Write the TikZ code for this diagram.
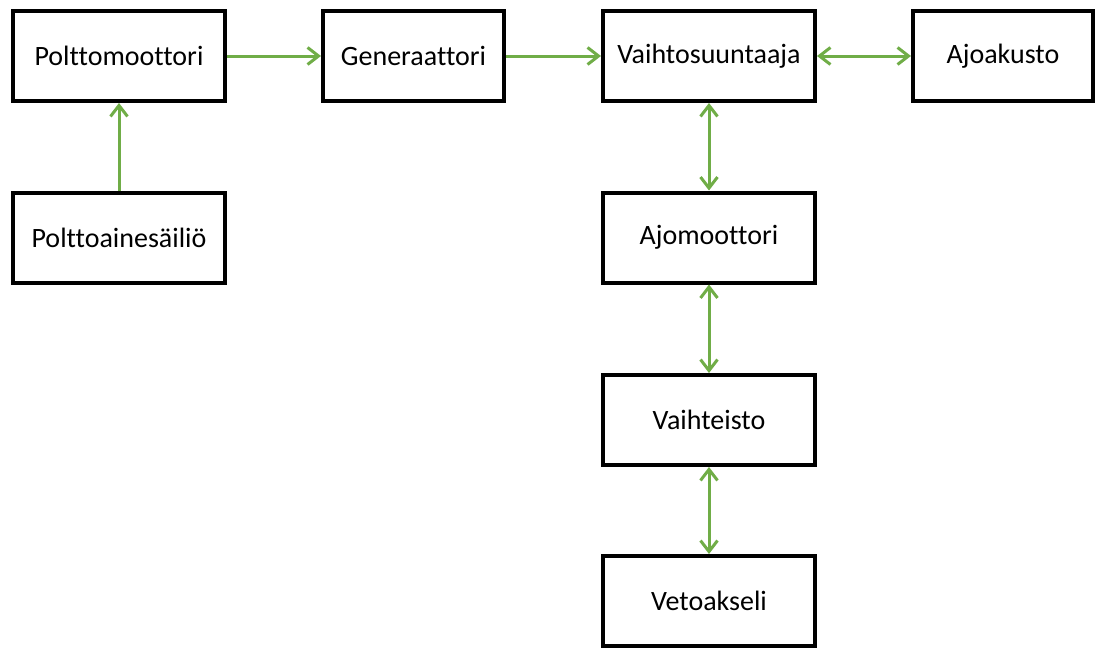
\documentclass[tikz,border=0pt]{standalone}
\usepackage{fontspec}
\setmainfont{Carlito}[Ligatures={NoCommon}]
\usetikzlibrary{arrows.meta}
\definecolor{arrgreen}{RGB}{112,173,71}
\tikzset{
  blockbox/.style={draw=black, line width=4pt, fill=white, minimum height=90pt, inner sep=0pt, font=\fontsize{28}{33}\selectfont},
  wideb/.style={blockbox, minimum width=212pt},
  narrowb/.style={blockbox, minimum width=181pt},
  conn/.style={draw=arrgreen, line width=3pt},
  tipg/.tip={Straight Barb[length=11pt,width=17pt,line width=3pt]}
}
\begin{document}
\begin{tikzpicture}[x=1pt,y=-1pt]
\useasboundingbox (0,0) rectangle (1095,648);
\node[wideb] (pm) at (119,56) {Polttomoottori};
\node[narrowb] (gen) at (413.5,56) {Generaattori};
\node[wideb] (vs) at (709,56) {Vaihtosuuntaaja};
\node[blockbox, minimum width=180pt] (ak) at (1003,56) {Ajoakusto};
\node[wideb] (pas) at (119,237.5) {Polttoainesäiliö};
\node[wideb] (am) at (709,237.5) {Ajomoottori};
\node[wideb] (vt) at (709,420) {Vaihteisto};
\node[wideb] (va) at (709,601) {Vetoakseli};
\draw[conn, -{tipg}] (pm.east) -- (gen.west);
\draw[conn, -{tipg}] (gen.east) -- (vs.west);
\draw[conn, {tipg}-{tipg}] (vs.east) -- (ak.west);
\draw[conn, -{tipg}] (pas.north) -- (pm.south);
\draw[conn, {tipg}-{tipg}] (vs.south) -- (am.north);
\draw[conn, {tipg}-{tipg}] (am.south) -- (vt.north);
\draw[conn, {tipg}-{tipg}] (vt.south) -- (va.north);
\end{tikzpicture}
\end{document}
